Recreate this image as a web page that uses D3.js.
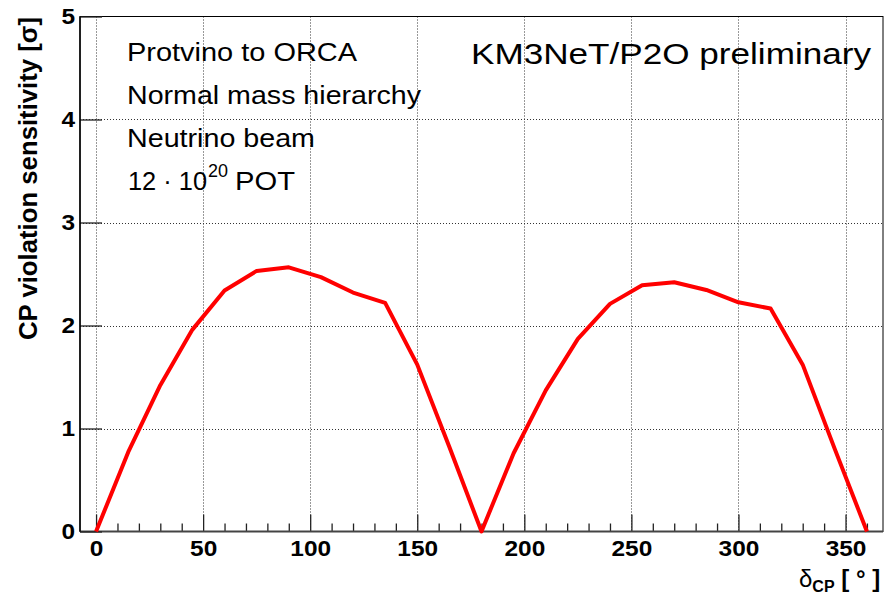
<!DOCTYPE html>
<html>
<head>
<meta charset="utf-8">
<script src="https://cdn.jsdelivr.net/npm/d3@7"></script>
<style>
  body { margin: 0; background: #fff; }
  svg { display: block; }
  text { font-family: "Liberation Sans", Arial, sans-serif; fill: #000; }
</style>
</head>
<body>
<svg id="chart" width="887" height="601"></svg>
<script>
// CP violation sensitivity vs delta_CP
const deltaCP = [0, 15, 30, 45, 60, 75, 90, 105, 120, 135, 150, 165, 180,
                 195, 210, 225, 240, 255, 270, 285, 300, 315, 330, 345, 360];
const sensitivity = [0, 0.77, 1.42, 1.96, 2.34, 2.53, 2.565, 2.47, 2.32, 2.22, 1.62, 0.82, 0,
                     0.76, 1.37, 1.87, 2.21, 2.39, 2.42, 2.345, 2.225, 2.165, 1.62, 0.8, 0];
const xMajorTicks = [0, 50, 100, 150, 200, 250, 300, 350];
const xMinorTicks = [10, 20, 30, 40, 60, 70, 80, 90, 110, 120, 130, 140, 160, 170, 180, 190,
                     210, 220, 230, 240, 260, 270, 280, 290, 310, 320, 330, 340, 360];
const yTicks = [0, 1, 2, 3, 4, 5];
const infoLines = ["Protvino to ORCA", "Normal mass hierarchy", "Neutrino beam"];

const frame = {left: 80, right: 883, top: 16.5, bottom: 531.5};
const svg = d3.select("#chart");

const x = d3.scaleLinear().domain([-7.5, 367.5]).range([frame.left, frame.right]);
const y = d3.scaleLinear().domain([0, 5]).range([frame.bottom, frame.top]);

// grid
const grid = svg.append("g").attr("class", "grid")
    .attr("stroke", "#333").attr("stroke-width", 1).attr("stroke-dasharray", "1,2");
grid.selectAll("line.v").data(xMajorTicks).join("line").attr("class", "v")
    .attr("x1", d => Math.round(x(d)) + 0.5).attr("x2", d => Math.round(x(d)) + 0.5)
    .attr("y1", frame.top).attr("y2", frame.bottom);
grid.selectAll("line.h").data(yTicks.filter(d => d > 0 && d < 5)).join("line").attr("class", "h")
    .attr("y1", d => Math.round(y(d)) + 0.5).attr("y2", d => Math.round(y(d)) + 0.5)
    .attr("x1", frame.left).attr("x2", frame.right);

// frame
svg.append("rect")
    .attr("x", frame.left).attr("y", frame.top)
    .attr("width", frame.right - frame.left).attr("height", frame.bottom - frame.top)
    .attr("fill", "none").attr("stroke", "#000").attr("stroke-width", 1);

// x axis
const xAxis = svg.append("g").attr("class", "x-axis")
    .attr("transform", `translate(0, ${frame.bottom})`)
    .call(d3.axisBottom(x).tickValues(xMajorTicks).tickSize(-17).tickPadding(9));
svg.append("g").attr("class", "x-minor")
    .attr("transform", `translate(0, ${frame.bottom})`)
    .call(d3.axisBottom(x).tickValues(xMinorTicks).tickSize(-8).tickFormat(""));
svg.selectAll(".x-axis path.domain, .x-minor path.domain").remove();
svg.selectAll(".x-axis line, .x-minor line").attr("stroke", "#222").attr("stroke-width", 1.3);
xAxis.selectAll("text")
    .style("font-family", "'Liberation Sans', Arial, sans-serif")
    .attr("font-size", 22).attr("font-weight", "bold").attr("fill", "#000")
    .attr("textLength", d => String(d).length * 13.6)
    .attr("lengthAdjust", "spacingAndGlyphs");

svg.append("line")
    .attr("x1", frame.left).attr("x2", frame.right)
    .attr("y1", frame.bottom).attr("y2", frame.bottom)
    .attr("stroke", "#444").attr("stroke-width", 2);

// y axis
const yAxis = svg.append("g").attr("class", "y-axis")
    .attr("transform", `translate(${frame.left}, 0)`)
    .call(d3.axisLeft(y).tickValues(yTicks).tickFormat(d3.format("d")).tickSize(-22).tickPadding(5));
yAxis.select("path.domain").remove();
yAxis.selectAll("line").attr("stroke", "#222").attr("stroke-width", 1.3);
yAxis.selectAll("text")
    .style("font-family", "'Liberation Sans', Arial, sans-serif")
    .attr("font-size", 22).attr("font-weight", "bold").attr("fill", "#000")
    .attr("textLength", 13.6).attr("lengthAdjust", "spacingAndGlyphs");
svg.append("line")
    .attr("x1", frame.left).attr("x2", frame.left)
    .attr("y1", frame.top).attr("y2", frame.bottom)
    .attr("stroke", "#000").attr("stroke-width", 1.5);

// curve
const line = d3.line().x((d, i) => x(deltaCP[i])).y(d => y(d));
svg.append("path")
    .datum(sensitivity)
    .attr("d", line)
    .attr("fill", "none")
    .attr("stroke", "#ff0000")
    .attr("stroke-width", 4)
    .attr("stroke-linejoin", "round");

// axis titles
svg.append("text")
    .attr("transform", "translate(37, 17) rotate(-90)")
    .attr("text-anchor", "end")
    .attr("font-size", 25).attr("font-weight", "bold")
    .attr("textLength", 323).attr("lengthAdjust", "spacingAndGlyphs")
    .text("CP violation sensitivity [σ]");

const xt = svg.append("text").attr("x", 799).attr("y", 587).attr("font-size", 24);
xt.append("tspan").text("δ");
xt.append("tspan").attr("font-size", 16).attr("font-weight", "bold").attr("dy", 5).text("CP");
xt.append("tspan").attr("font-weight", "bold").attr("dy", -5).text(" [ ° ]");

// info text
const infoWidths = [230, 294, 188];
svg.selectAll("text.info").data(infoLines).join("text").attr("class", "info")
    .attr("x", 127).attr("y", (d, i) => 61 + i * 43)
    .attr("font-size", 26)
    .attr("textLength", (d, i) => infoWidths[i]).attr("lengthAdjust", "spacingAndGlyphs")
    .text(d => d);
svg.append("text").attr("x", 128).attr("y", 190).attr("font-size", 26)
    .attr("textLength", 79).attr("lengthAdjust", "spacingAndGlyphs").text("12 · 10");
svg.append("text").attr("x", 208).attr("y", 176.5).attr("font-size", 18)
    .attr("textLength", 20).attr("lengthAdjust", "spacingAndGlyphs").text("20");
svg.append("text").attr("x", 235).attr("y", 190).attr("font-size", 26)
    .attr("textLength", 60).attr("lengthAdjust", "spacingAndGlyphs").text("POT");

svg.append("text").attr("x", 471).attr("y", 64).attr("font-size", 30)
    .attr("textLength", 400).attr("lengthAdjust", "spacingAndGlyphs")
    .text("KM3NeT/P2O preliminary");
</script>
</body>
</html>
